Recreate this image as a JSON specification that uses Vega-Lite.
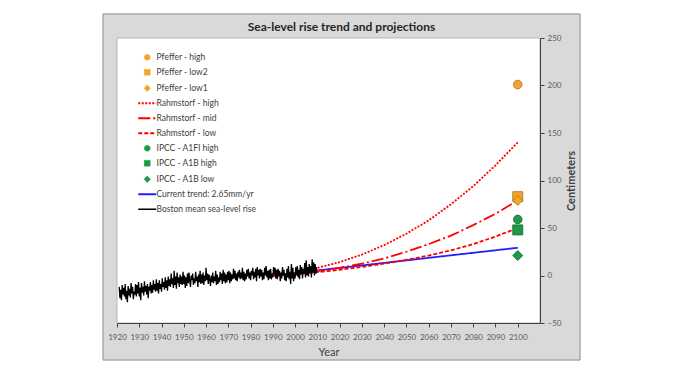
{
  "$schema": "https://vega.github.io/schema/vega-lite/v6.json",
  "width": 423,
  "height": 285,
  "autosize": {"type": "none"},
  "padding": {"left": 117, "top": 38, "right": 144, "bottom": 46},
  "background": "white",
  "config": {"view": {"stroke": null}, "font": "Lato",
    "axisX": {"labelFont": "Lato", "labelFontSize": 8, "labelColor": "#595959", "labelPadding": 6, "labelFlush": false, "tickSize": 4, "tickColor": "#404040", "domainColor": "#404040", "grid": false, "titleFont": "Lato", "titleFontSize": 11, "titleFontWeight": "normal", "titleColor": "#404040", "titlePadding": 5},
    "axisY": {"labelFont": "Lato", "labelFontSize": 8, "labelColor": "#595959", "labelPadding": 3, "labelFlush": false, "tickSize": 4, "tickColor": "#404040", "domainColor": "#404040", "grid": false, "titleFont": "Lato", "titleFontSize": 11, "titleFontWeight": "bold", "titleColor": "#404040", "titleAngle": 270, "titlePadding": 16}
  },
  "title": {"text": "Sea-level rise trend and projections", "fontSize": 12, "font": "Lato", "fontWeight": "bold", "color": "#262626", "anchor": "middle", "dx": 13, "offset": -21},
  "datasets": {
    "pts": [
      {"series": "Pfeffer - high", "year": 2100, "cm": 201},
      {"series": "Pfeffer - low2", "year": 2100, "cm": 83},
      {"series": "Pfeffer - low1", "year": 2100, "cm": 79},
      {"series": "IPCC - A1FI high", "year": 2100, "cm": 59},
      {"series": "IPCC - A1B high", "year": 2100, "cm": 48},
      {"series": "IPCC - A1B low", "year": 2100, "cm": 21}
    ],
    "lines": [
      {"series": "Current trend: 2.65mm/yr", "year": 1990, "cm": 0},
      {"series": "Current trend: 2.65mm/yr", "year": 2100, "cm": 29.2},
      {"series": "Rahmstorf - high", "year": 1990, "cm": 0},
      {"series": "Rahmstorf - high", "year": 2000, "cm": 3},
      {"series": "Rahmstorf - high", "year": 2010, "cm": 8},
      {"series": "Rahmstorf - high", "year": 2020, "cm": 14},
      {"series": "Rahmstorf - high", "year": 2030, "cm": 22},
      {"series": "Rahmstorf - high", "year": 2040, "cm": 32},
      {"series": "Rahmstorf - high", "year": 2050, "cm": 44},
      {"series": "Rahmstorf - high", "year": 2060, "cm": 58},
      {"series": "Rahmstorf - high", "year": 2070, "cm": 75},
      {"series": "Rahmstorf - high", "year": 2080, "cm": 94},
      {"series": "Rahmstorf - high", "year": 2090, "cm": 116},
      {"series": "Rahmstorf - high", "year": 2100, "cm": 140},
      {"series": "Rahmstorf - mid", "year": 1990, "cm": 0},
      {"series": "Rahmstorf - mid", "year": 2000, "cm": 2},
      {"series": "Rahmstorf - mid", "year": 2010, "cm": 4.5},
      {"series": "Rahmstorf - mid", "year": 2020, "cm": 8},
      {"series": "Rahmstorf - mid", "year": 2030, "cm": 12.5},
      {"series": "Rahmstorf - mid", "year": 2040, "cm": 18},
      {"series": "Rahmstorf - mid", "year": 2050, "cm": 25},
      {"series": "Rahmstorf - mid", "year": 2060, "cm": 33},
      {"series": "Rahmstorf - mid", "year": 2070, "cm": 42},
      {"series": "Rahmstorf - mid", "year": 2080, "cm": 53},
      {"series": "Rahmstorf - mid", "year": 2090, "cm": 65},
      {"series": "Rahmstorf - mid", "year": 2100, "cm": 79},
      {"series": "Rahmstorf - low", "year": 1990, "cm": 0},
      {"series": "Rahmstorf - low", "year": 2000, "cm": 1.5},
      {"series": "Rahmstorf - low", "year": 2010, "cm": 3.5},
      {"series": "Rahmstorf - low", "year": 2020, "cm": 6},
      {"series": "Rahmstorf - low", "year": 2030, "cm": 9},
      {"series": "Rahmstorf - low", "year": 2040, "cm": 12.5},
      {"series": "Rahmstorf - low", "year": 2050, "cm": 16.5},
      {"series": "Rahmstorf - low", "year": 2060, "cm": 21},
      {"series": "Rahmstorf - low", "year": 2070, "cm": 26.5},
      {"series": "Rahmstorf - low", "year": 2080, "cm": 33},
      {"series": "Rahmstorf - low", "year": 2090, "cm": 41},
      {"series": "Rahmstorf - low", "year": 2100, "cm": 50}
    ],
    "boston": [
      {"year":1921,"cm":-12},{"year":1921.33,"cm":-24},{"year":1921.67,"cm":-15},
      {"year":1922,"cm":-26},{"year":1922.33,"cm":-10},{"year":1922.67,"cm":-20},
      {"year":1923,"cm":-13},{"year":1923.33,"cm":-22},{"year":1923.67,"cm":-9},
      {"year":1924,"cm":-25},{"year":1924.33,"cm":-16},{"year":1924.67,"cm":-28},
      {"year":1925,"cm":-11},{"year":1925.33,"cm":-21},{"year":1925.67,"cm":-14},
      {"year":1926,"cm":-23},{"year":1926.33,"cm":-8},{"year":1926.67,"cm":-19},
      {"year":1927,"cm":-12},{"year":1927.33,"cm":-25},{"year":1927.67,"cm":-17},
      {"year":1928,"cm":-20},{"year":1928.33,"cm":-9},{"year":1928.67,"cm":-22},
      {"year":1929,"cm":-10},{"year":1929.33,"cm":-19},{"year":1929.67,"cm":-7},
      {"year":1930,"cm":-22},{"year":1930.33,"cm":-13},{"year":1930.67,"cm":-26},
      {"year":1931,"cm":-8},{"year":1931.33,"cm":-18},{"year":1931.67,"cm":-12},
      {"year":1932,"cm":-21},{"year":1932.33,"cm":-6},{"year":1932.67,"cm":-17},
      {"year":1933,"cm":-11},{"year":1933.33,"cm":-20},{"year":1933.67,"cm":-9},
      {"year":1934,"cm":-24},{"year":1934.33,"cm":-12},{"year":1934.67,"cm":-16},
      {"year":1935,"cm":-7},{"year":1935.33,"cm":-19},{"year":1935.67,"cm":-10},
      {"year":1936,"cm":-18},{"year":1936.33,"cm":-5},{"year":1936.67,"cm":-15},
      {"year":1937,"cm":-9},{"year":1937.33,"cm":-17},{"year":1937.67,"cm":-4},
      {"year":1938,"cm":-16},{"year":1938.33,"cm":-8},{"year":1938.67,"cm":-19},
      {"year":1939,"cm":-5},{"year":1939.33,"cm":-14},{"year":1939.67,"cm":-9},
      {"year":1940,"cm":-17},{"year":1940.33,"cm":-3},{"year":1940.67,"cm":-12},
      {"year":1941,"cm":-7},{"year":1941.33,"cm":-15},{"year":1941.67,"cm":-2},
      {"year":1942,"cm":-13},{"year":1942.33,"cm":-5},{"year":1942.67,"cm":-16},
      {"year":1943,"cm":-1},{"year":1943.33,"cm":-11},{"year":1943.67,"cm":-4},
      {"year":1944,"cm":-12},{"year":1944.33,"cm":2},{"year":1944.67,"cm":-9},
      {"year":1945,"cm":-3},{"year":1945.33,"cm":-13},{"year":1945.67,"cm":5},
      {"year":1946,"cm":-10},{"year":1946.33,"cm":-1},{"year":1946.67,"cm":-14},
      {"year":1947,"cm":3},{"year":1947.33,"cm":-8},{"year":1947.67,"cm":-2},
      {"year":1948,"cm":-12},{"year":1948.33,"cm":1},{"year":1948.67,"cm":-9},
      {"year":1949,"cm":-1},{"year":1949.33,"cm":-10},{"year":1949.67,"cm":4},
      {"year":1950,"cm":-9},{"year":1950.33,"cm":0},{"year":1950.67,"cm":-13},
      {"year":1951,"cm":-2},{"year":1951.33,"cm":-11},{"year":1951.67,"cm":2},
      {"year":1952,"cm":-8},{"year":1952.33,"cm":3},{"year":1952.67,"cm":-6},
      {"year":1953,"cm":-12},{"year":1953.33,"cm":0},{"year":1953.67,"cm":-5},
      {"year":1954,"cm":2},{"year":1954.33,"cm":-10},{"year":1954.67,"cm":-3},
      {"year":1955,"cm":-8},{"year":1955.33,"cm":4},{"year":1955.67,"cm":-6},
      {"year":1956,"cm":-1},{"year":1956.33,"cm":-12},{"year":1956.67,"cm":1},
      {"year":1957,"cm":-7},{"year":1957.33,"cm":5},{"year":1957.67,"cm":-9},
      {"year":1958,"cm":1},{"year":1958.33,"cm":-8},{"year":1958.67,"cm":3},
      {"year":1959,"cm":-10},{"year":1959.33,"cm":0},{"year":1959.67,"cm":-6},
      {"year":1960,"cm":8},{"year":1960.33,"cm":-5},{"year":1960.67,"cm":2},
      {"year":1961,"cm":-9},{"year":1961.33,"cm":1},{"year":1961.67,"cm":-4},
      {"year":1962,"cm":-11},{"year":1962.33,"cm":0},{"year":1962.67,"cm":-7},
      {"year":1963,"cm":3},{"year":1963.33,"cm":-8},{"year":1963.67,"cm":-1},
      {"year":1964,"cm":-6},{"year":1964.33,"cm":5},{"year":1964.67,"cm":-10},
      {"year":1965,"cm":1},{"year":1965.33,"cm":-9},{"year":1965.67,"cm":-2},
      {"year":1966,"cm":-7},{"year":1966.33,"cm":4},{"year":1966.67,"cm":-5},
      {"year":1967,"cm":2},{"year":1967.33,"cm":-9},{"year":1967.67,"cm":6},
      {"year":1968,"cm":-6},{"year":1968.33,"cm":3},{"year":1968.67,"cm":-8},
      {"year":1969,"cm":1},{"year":1969.33,"cm":-7},{"year":1969.67,"cm":4},
      {"year":1970,"cm":-5},{"year":1970.33,"cm":5},{"year":1970.67,"cm":-8},
      {"year":1971,"cm":3},{"year":1971.33,"cm":-6},{"year":1971.67,"cm":1},
      {"year":1972,"cm":-4},{"year":1972.33,"cm":7},{"year":1972.67,"cm":-3},
      {"year":1973,"cm":5},{"year":1973.33,"cm":-5},{"year":1973.67,"cm":2},
      {"year":1974,"cm":-6},{"year":1974.33,"cm":4},{"year":1974.67,"cm":-2},
      {"year":1975,"cm":6},{"year":1975.33,"cm":-4},{"year":1975.67,"cm":3},
      {"year":1976,"cm":-3},{"year":1976.33,"cm":8},{"year":1976.67,"cm":-5},
      {"year":1977,"cm":4},{"year":1977.33,"cm":-6},{"year":1977.67,"cm":2},
      {"year":1978,"cm":-4},{"year":1978.33,"cm":6},{"year":1978.67,"cm":-1},
      {"year":1979,"cm":7},{"year":1979.33,"cm":-3},{"year":1979.67,"cm":3},
      {"year":1980,"cm":-5},{"year":1980.33,"cm":5},{"year":1980.67,"cm":0},
      {"year":1981,"cm":8},{"year":1981.33,"cm":-4},{"year":1981.67,"cm":4},
      {"year":1982,"cm":-2},{"year":1982.33,"cm":7},{"year":1982.67,"cm":-6},
      {"year":1983,"cm":9},{"year":1983.33,"cm":0},{"year":1983.67,"cm":6},
      {"year":1984,"cm":-3},{"year":1984.33,"cm":7},{"year":1984.67,"cm":-1},
      {"year":1985,"cm":6},{"year":1985.33,"cm":-5},{"year":1985.67,"cm":3},
      {"year":1986,"cm":-4},{"year":1986.33,"cm":8},{"year":1986.67,"cm":0},
      {"year":1987,"cm":10},{"year":1987.33,"cm":-2},{"year":1987.67,"cm":5},
      {"year":1988,"cm":-5},{"year":1988.33,"cm":6},{"year":1988.67,"cm":-3},
      {"year":1989,"cm":7},{"year":1989.33,"cm":-4},{"year":1989.67,"cm":2},
      {"year":1990,"cm":-2},{"year":1990.33,"cm":9},{"year":1990.67,"cm":1},
      {"year":1991,"cm":8},{"year":1991.33,"cm":-3},{"year":1991.67,"cm":6},
      {"year":1992,"cm":-4},{"year":1992.33,"cm":7},{"year":1992.67,"cm":-1},
      {"year":1993,"cm":5},{"year":1993.33,"cm":-6},{"year":1993.67,"cm":3},
      {"year":1994,"cm":-3},{"year":1994.33,"cm":9},{"year":1994.67,"cm":0},
      {"year":1995,"cm":6},{"year":1995.33,"cm":-5},{"year":1995.67,"cm":2},
      {"year":1996,"cm":-6},{"year":1996.33,"cm":7},{"year":1996.67,"cm":-2},
      {"year":1997,"cm":10},{"year":1997.33,"cm":-4},{"year":1997.67,"cm":4},
      {"year":1998,"cm":-9},{"year":1998.33,"cm":12},{"year":1998.67,"cm":-3},
      {"year":1999,"cm":8},{"year":1999.33,"cm":-6},{"year":1999.67,"cm":2},
      {"year":2000,"cm":-3},{"year":2000.33,"cm":9},{"year":2000.67,"cm":0},
      {"year":2001,"cm":10},{"year":2001.33,"cm":-2},{"year":2001.67,"cm":6},
      {"year":2002,"cm":-4},{"year":2002.33,"cm":11},{"year":2002.67,"cm":1},
      {"year":2003,"cm":9},{"year":2003.33,"cm":-3},{"year":2003.67,"cm":7},
      {"year":2004,"cm":2},{"year":2004.33,"cm":13},{"year":2004.67,"cm":-2},
      {"year":2005,"cm":16},{"year":2005.33,"cm":0},{"year":2005.67,"cm":9},
      {"year":2006,"cm":-1},{"year":2006.33,"cm":12},{"year":2006.67,"cm":3},
      {"year":2007,"cm":10},{"year":2007.33,"cm":-2},{"year":2007.67,"cm":17},
      {"year":2008,"cm":3},{"year":2008.33,"cm":14},{"year":2008.67,"cm":0},
      {"year":2009,"cm":12},{"year":2009.33,"cm":2},{"year":2009.67,"cm":9}
    ]
  },
  "layer": [
    {
      "data": {"values": [{}]},
      "mark": {"type": "rect", "fill": "#d9d9d9", "stroke": "#8c8c8c", "strokeWidth": 1},
      "encoding": {
        "x": {"datum": 1913.7, "type": "quantitative", "title": "Year", "scale": {"domain": [1920, 2110], "nice": false, "zero": false},
          "axis": {"title": "Year", "values": [1920,1930,1940,1950,1960,1970,1980,1990,2000,2010,2020,2030,2040,2050,2060,2070,2080,2090,2100], "tickCount": 19, "labelExpr": "datum.value > 2100 ? '' : datum.label", "format": "d", "labelOverlap": false, "zindex": 1}},
        "x2": {"datum": 2128},
        "y": {"datum": 275.3, "type": "quantitative", "title": "Centimeters", "scale": {"domain": [-50, 250], "nice": false, "zero": false},
          "axis": {"title": "Centimeters", "orient": "right", "values": [-50, 0, 50, 100, 150, 200, 250], "labelOverlap": false, "zindex": 1}},
        "y2": {"datum": -89}
      }
    },
    {
      "data": {"values": [{}]},
      "mark": {"type": "rect", "fill": "white", "stroke": "#a6a6a6", "strokeWidth": 0.8},
      "encoding": {
        "x": {"datum": 1920, "type": "quantitative", "title": "Year",
          "axis": {"title": "Year", "values": [1920,1930,1940,1950,1960,1970,1980,1990,2000,2010,2020,2030,2040,2050,2060,2070,2080,2090,2100], "tickCount": 19, "labelExpr": "datum.value > 2100 ? '' : datum.label", "format": "d", "labelOverlap": false, "zindex": 1}},
        "x2": {"datum": 2110},
        "y": {"datum": -50, "type": "quantitative", "title": "Centimeters",
          "axis": {"title": "Centimeters", "orient": "right", "values": [-50, 0, 50, 100, 150, 200, 250], "labelOverlap": false, "zindex": 1}},
        "y2": {"datum": 250}
      }
    },
    {
      "data": {"name": "lines"},
      "mark": {"type": "line", "strokeWidth": 1.8},
      "encoding": {
        "x": {"field": "year", "type": "quantitative", "title": "Year",
          "axis": {"title": "Year", "values": [1920,1930,1940,1950,1960,1970,1980,1990,2000,2010,2020,2030,2040,2050,2060,2070,2080,2090,2100], "tickCount": 19, "labelExpr": "datum.value > 2100 ? '' : datum.label", "format": "d", "labelOverlap": false, "zindex": 1}},
        "y": {"field": "cm", "type": "quantitative", "title": "Centimeters",
          "axis": {"title": "Centimeters", "orient": "right", "values": [-50, 0, 50, 100, 150, 200, 250], "labelOverlap": false, "zindex": 1}},
        "color": {"field": "series", "type": "nominal",
          "scale": {"domain": ["Pfeffer - high","Pfeffer - low2","Pfeffer - low1","Rahmstorf - high","Rahmstorf - mid","Rahmstorf - low","IPCC - A1FI high","IPCC - A1B high","IPCC - A1B low","Current trend: 2.65mm/yr","Boston mean sea-level rise"],
                    "range": ["#F2A52A","#F2A52A","#F2A52A","#FF0000","#FF0000","#FF0000","#1E9A45","#1E9A45","#1E9A45","#1F1FFF","#000000"]},
          "legend": {"orient": "none", "legendX": 26, "legendY": 15, "title": null, "padding": 0, "symbolSize": 200, "rowPadding": 6, "labelOffset": 5, "labelFont": "Lato", "labelFontSize": 8.5, "labelColor": "#404040", "labelLimit": 300,
            "encode": {"symbols": {"update": {
              "shape": {"signal": "indexof(['Pfeffer - high','IPCC - A1FI high'], datum.value) >= 0 ? 'circle' : indexof(['Pfeffer - low2','IPCC - A1B high'], datum.value) >= 0 ? 'square' : indexof(['Pfeffer - low1','IPCC - A1B low'], datum.value) >= 0 ? 'diamond' : 'stroke'"},
              "size": {"signal": "indexof(['Rahmstorf - high','Rahmstorf - mid','Rahmstorf - low','Current trend: 2.65mm/yr','Boston mean sea-level rise'], datum.value) >= 0 ? 324 : indexof(['Pfeffer - low1','IPCC - A1B low'], datum.value) >= 0 ? 40 : 32"},
              "fill": {"signal": "indexof(['Rahmstorf - high','Rahmstorf - mid','Rahmstorf - low','Current trend: 2.65mm/yr','Boston mean sea-level rise'], datum.value) >= 0 ? 'transparent' : scale('color', datum.value)"},
              "stroke": {"signal": "indexof(['Rahmstorf - high','Rahmstorf - mid','Rahmstorf - low','Current trend: 2.65mm/yr','Boston mean sea-level rise'], datum.value) >= 0 ? scale('color', datum.value) : indexof(['Pfeffer - high','Pfeffer - low2','Pfeffer - low1'], datum.value) >= 0 ? '#A8741A' : '#14652D'"},
              "strokeWidth": {"signal": "datum.value == 'Boston mean sea-level rise' ? 1.5 : indexof(['Rahmstorf - high','Rahmstorf - mid','Rahmstorf - low','Current trend: 2.65mm/yr'], datum.value) >= 0 ? 2 : 0.7"},
              "strokeDash": {"signal": "datum.value == 'Rahmstorf - high' ? [2,1.5] : datum.value == 'Rahmstorf - mid' ? [12,3,2,3] : datum.value == 'Rahmstorf - low' ? [4,2] : [1,0]"},
              "opacity": {"value": 1}
            }}}}
        },
        "strokeDash": {"field": "series", "type": "nominal", "legend": null,
          "scale": {"domain": ["Rahmstorf - high","Rahmstorf - mid","Rahmstorf - low","Current trend: 2.65mm/yr"], "range": [[2,1.5],[12,3,2,3],[4,2],[1,0]]}}
      }
    },
    {
      "data": {"name": "boston"},
      "mark": {"type": "line", "strokeWidth": 1.3, "color": "#000000"},
      "encoding": {
        "x": {"field": "year", "type": "quantitative", "title": "Year",
          "axis": {"title": "Year", "values": [1920,1930,1940,1950,1960,1970,1980,1990,2000,2010,2020,2030,2040,2050,2060,2070,2080,2090,2100], "tickCount": 19, "labelExpr": "datum.value > 2100 ? '' : datum.label", "format": "d", "labelOverlap": false, "zindex": 1}},
        "y": {"field": "cm", "type": "quantitative", "title": "Centimeters",
          "axis": {"title": "Centimeters", "orient": "right", "values": [-50, 0, 50, 100, 150, 200, 250], "labelOverlap": false, "zindex": 1}}
      }
    },
    {
      "data": {"name": "pts"},
      "transform": [{"filter": {"field": "series", "oneOf": ["Pfeffer - high", "IPCC - A1FI high"]}}],
      "mark": {"type": "point", "shape": "circle", "filled": true, "size": 75, "strokeWidth": 0.8, "opacity": 1},
      "encoding": {
        "x": {"field": "year", "type": "quantitative", "title": "Year",
          "axis": {"title": "Year", "values": [1920,1930,1940,1950,1960,1970,1980,1990,2000,2010,2020,2030,2040,2050,2060,2070,2080,2090,2100], "tickCount": 19, "labelExpr": "datum.value > 2100 ? '' : datum.label", "format": "d", "labelOverlap": false, "zindex": 1}},
        "y": {"field": "cm", "type": "quantitative", "title": "Centimeters",
          "axis": {"title": "Centimeters", "orient": "right", "values": [-50, 0, 50, 100, 150, 200, 250], "labelOverlap": false, "zindex": 1}},
        "color": {"field": "series", "type": "nominal"},
        "stroke": {"field": "series", "type": "nominal", "legend": null,
          "scale": {"domain": ["Pfeffer - high","Pfeffer - low2","Pfeffer - low1","IPCC - A1FI high","IPCC - A1B high","IPCC - A1B low"], "range": ["#A8741A","#A8741A","#A8741A","#14652D","#14652D","#14652D"]}}
      }
    },
    {
      "data": {"name": "pts"},
      "transform": [{"filter": {"field": "series", "oneOf": ["Pfeffer - low2", "IPCC - A1B high"]}}],
      "mark": {"type": "point", "shape": "square", "filled": true, "size": 100, "strokeWidth": 0.8, "opacity": 1},
      "encoding": {
        "x": {"field": "year", "type": "quantitative", "title": "Year",
          "axis": {"title": "Year", "values": [1920,1930,1940,1950,1960,1970,1980,1990,2000,2010,2020,2030,2040,2050,2060,2070,2080,2090,2100], "tickCount": 19, "labelExpr": "datum.value > 2100 ? '' : datum.label", "format": "d", "labelOverlap": false, "zindex": 1}},
        "y": {"field": "cm", "type": "quantitative", "title": "Centimeters",
          "axis": {"title": "Centimeters", "orient": "right", "values": [-50, 0, 50, 100, 150, 200, 250], "labelOverlap": false, "zindex": 1}},
        "color": {"field": "series", "type": "nominal"},
        "stroke": {"field": "series", "type": "nominal", "legend": null}
      }
    },
    {
      "data": {"name": "pts"},
      "transform": [{"filter": {"field": "series", "oneOf": ["Pfeffer - low1", "IPCC - A1B low"]}}],
      "mark": {"type": "point", "shape": "diamond", "filled": true, "size": 100, "strokeWidth": 0.8, "opacity": 1},
      "encoding": {
        "x": {"field": "year", "type": "quantitative", "title": "Year",
          "axis": {"title": "Year", "values": [1920,1930,1940,1950,1960,1970,1980,1990,2000,2010,2020,2030,2040,2050,2060,2070,2080,2090,2100], "tickCount": 19, "labelExpr": "datum.value > 2100 ? '' : datum.label", "format": "d", "labelOverlap": false, "zindex": 1}},
        "y": {"field": "cm", "type": "quantitative", "title": "Centimeters",
          "axis": {"title": "Centimeters", "orient": "right", "values": [-50, 0, 50, 100, 150, 200, 250], "labelOverlap": false, "zindex": 1}},
        "color": {"field": "series", "type": "nominal"},
        "stroke": {"field": "series", "type": "nominal", "legend": null}
      }
    }
  ]
}
